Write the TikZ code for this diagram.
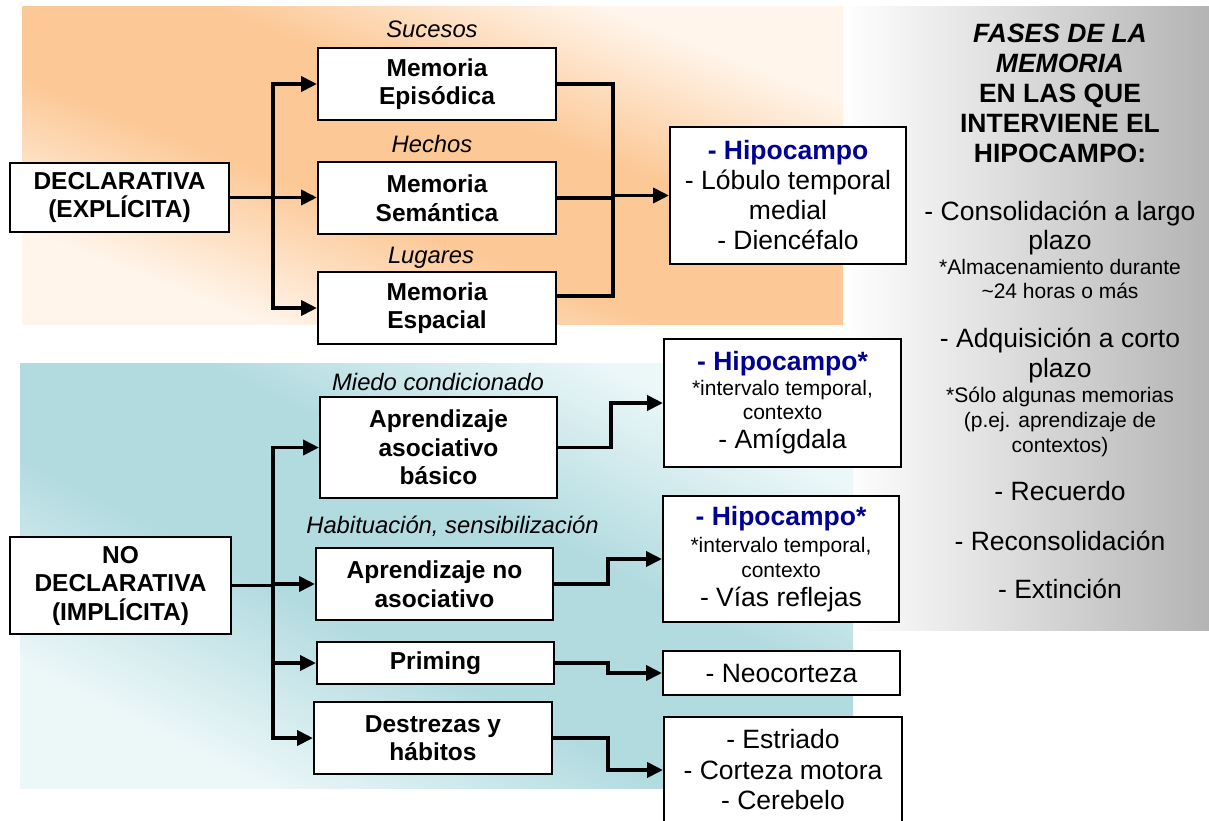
\documentclass[tikz,border=0pt]{standalone}
\usepackage{fontspec}
\setmainfont{Liberation Sans}
\usetikzlibrary{arrows.meta}
\definecolor{navy}{RGB}{0,0,150}
\definecolor{orD}{RGB}{252,200,150}
\definecolor{orL}{RGB}{255,245,235}
\definecolor{teD}{RGB}{178,219,224}
\definecolor{teL}{RGB}{236,247,248}
\definecolor{grD}{RGB}{180,180,180}
\pgfdeclareverticalshading{orsh}{100bp}{color(0bp)=(orL); color(25bp)=(orL); color(42bp)=(orD); color(58bp)=(orD); color(75bp)=(orL); color(100bp)=(orL)}
\pgfdeclareverticalshading{tesh}{100bp}{color(0bp)=(teL); color(25bp)=(teL); color(42bp)=(teD); color(58bp)=(teD); color(75bp)=(teL); color(100bp)=(teL)}
\newcommand\fszA{\fontsize{24.5}{28.5}\selectfont}
\newcommand\fszB{\fontsize{26.5}{30}\selectfont}
\newcommand\fszC{\fontsize{21}{24.5}\selectfont}
\newcommand\fszI{\fontsize{23.8}{28}\selectfont}
\begin{document}
\begin{tikzpicture}[x=1pt,y=-1pt,
 box/.style={draw=black, line width=2pt, fill=white, inner sep=0pt, align=center},
 bbox/.style={box, font=\fszA\bfseries},
 rbox/.style={box, font=\fszB},
 conn/.style={line width=3.8pt},
 arr/.style={line width=3.8pt, -{Triangle[length=16pt,width=15pt]}},
 dblarr/.style={line width=3.8pt, {Triangle[length=16pt,width=15pt]}-{Triangle[length=16pt,width=15pt]}},
 lbl/.style={font=\fszI\itshape, anchor=base, inner sep=0pt},
 ptxt/.style={anchor=base, inner sep=0pt},
]
\useasboundingbox (0,0) rectangle (1209,820);
% backgrounds
\shade[left color=white, right color=grD] (843,6) rectangle (1209,630);
\begin{scope}[transform canvas={shift={(432.5,165)},xscale=8.21,yscale=3.18}]
  \shade[shading=orsh, shading angle=-45] (-50,-50) rectangle (50,50);
\end{scope}
\begin{scope}[transform canvas={shift={(436.5,575.5)},xscale=8.33,yscale=4.25}]
  \shade[shading=tesh, shading angle=-45] (-50,-50) rectangle (50,50);
\end{scope}

% declarative part
\node[bbox, minimum width=219pt, minimum height=69pt] (decl) at (119.5,197.5) {DECLARATIVA\\(EXPLÍCITA)};
\node[bbox, minimum width=238pt, minimum height=72pt] (epis) at (437,84) {Memoria\\Episódica};
\node[bbox, minimum width=238pt, minimum height=72pt] (sem) at (437,198) {Memoria\\Semántica};
\node[bbox, minimum width=238pt, minimum height=72pt] (esp) at (437,308) {Memoria\\Espacial};
\node[lbl] (lsuc) at (432,37) {Sucesos};
\node[lbl] (lhec) at (432,152) {Hechos};
\node[lbl] (llug) at (431,263) {Lugares};
\node[rbox, minimum width=236pt, minimum height=137pt] (hip1) at (788,195.5)
  {\textcolor{navy}{\bfseries - Hipocampo}\\- Lóbulo temporal\\medial\\- Diencéfalo};

\coordinate (t1) at (273,0);
\coordinate (j1) at (613,0);
\coordinate (e3) at ([yshift=12pt]esp.east);
\draw[arr] (decl.east) -- (decl.east -| sem.west);
\draw[dblarr] (epis.west) -- (t1 |- epis.west) -- (t1 |- esp.west) -- (esp.west);
\draw[conn] (epis.east) -| (j1 |- e3) -- (e3);
\draw[conn] (sem.east) -- (sem.east -| j1);
\draw[arr] (j1 |- hip1.west) -- (hip1.west);

% non declarative part
\node[bbox, minimum width=221pt, minimum height=97pt] (nodecl) at (120.5,585.5) {NO\\DECLARATIVA\\(IMPLÍCITA)};
\node[bbox, minimum width=237pt, minimum height=101pt] (aab) at (438.5,447.5) {Aprendizaje\\asociativo\\básico};
\node[bbox, minimum width=237pt, minimum height=72pt] (ana) at (434.5,584) {Aprendizaje no\\asociativo};
\node[bbox, minimum width=237pt, minimum height=42pt] (prim) at (435.5,663) {Priming};
\node[bbox, minimum width=238pt, minimum height=72pt] (destr) at (433,738) {Destrezas y\\hábitos};
\node[lbl] (lmie) at (438,390) {Miedo condicionado};
\node[lbl] (lhab) at (452.5,533) {Habituación, sensibilización};

\node[rbox, minimum width=237pt, minimum height=128pt] (hipa) at (782.5,403)
  {\textcolor{navy}{\bfseries - Hipocampo*}\\[-5pt]{\fszC *intervalo temporal,}\\[-6pt]{\fszC contexto}\\[-1pt]- Amígdala};
\node[rbox, minimum width=236pt, minimum height=126pt] (hipb) at (781,559)
  {\textcolor{navy}{\bfseries - Hipocampo*}\\[-3pt]{\fszC *intervalo temporal,}\\[-5pt]{\fszC contexto}\\[-1pt]- Vías reflejas};
\node[rbox, minimum width=237pt, minimum height=44pt] (neo) at (781.5,673) {- Neocorteza};
\node[rbox, minimum width=238pt, minimum height=106pt] (estr) at (783,770)
  {- Estriado\\[0.5pt]- Corteza motora\\[0.5pt]- Cerebelo};

\coordinate (j2) at (608,0);
\coordinate (j2a) at (611,0);
\draw[conn] (nodecl.east) -- (nodecl.east -| t1);
\draw[dblarr] (aab.west) -- (t1 |- aab.west) -- (t1 |- destr.west) -- (destr.west);
\draw[arr] (t1 |- ana.west) -- (ana.west);
\draw[arr] (t1 |- prim.west) -- (prim.west);
\draw[arr] (aab.east) -- (aab.east -| j2a) |- (hipa.west);
\draw[arr] (ana.east) -- (ana.east -| j2) |- (hipb.west);
\draw[arr] (prim.east) -- (prim.east -| j2) |- (neo.west);
\draw[arr] (destr.east) -- (destr.east -| j2) |- (estr.west);

% right panel
\node[ptxt, font=\fszB\bfseries\itshape] (p1) at (1060,42) {FASES DE LA};
\node[ptxt, font=\fszB\bfseries\itshape] (p2) at (1060,72) {MEMORIA};
\node[ptxt, font=\fszB\bfseries] (p3) at (1060,102) {EN LAS QUE};
\node[ptxt, font=\fszB\bfseries] (p4) at (1060,132) {INTERVIENE EL};
\node[ptxt, font=\fszB\bfseries] (p5) at (1060,162) {HIPOCAMPO:};
\node[ptxt, font=\fszB] (p6) at (1060,220) {- Consolidación a largo};
\node[ptxt, font=\fszB] (p7) at (1060,249) {plazo};
\node[ptxt, font=\fszC] (p8) at (1060,274) {*Almacenamiento durante};
\node[ptxt, font=\fszC] (p9) at (1060,298) {\textasciitilde 24 horas o más};
\node[ptxt, font=\fszB] (p10) at (1060,347) {- Adquisición a corto};
\node[ptxt, font=\fszB] (p11) at (1060,377) {plazo};
\node[ptxt, font=\fszC] (p12) at (1060,402) {*Sólo algunas memorias};
\node[ptxt, font=\fszC] (p13) at (1060,427) {(p.ej. aprendizaje de};
\node[ptxt, font=\fszC] (p14) at (1060,452) {contextos)};
\node[ptxt, font=\fszB] (p15) at (1060,500) {- Recuerdo};
\node[ptxt, font=\fszB] (p16) at (1060,550) {- Reconsolidación};
\node[ptxt, font=\fszB] (p17) at (1060,598) {- Extinción};
\end{tikzpicture}
\end{document}
